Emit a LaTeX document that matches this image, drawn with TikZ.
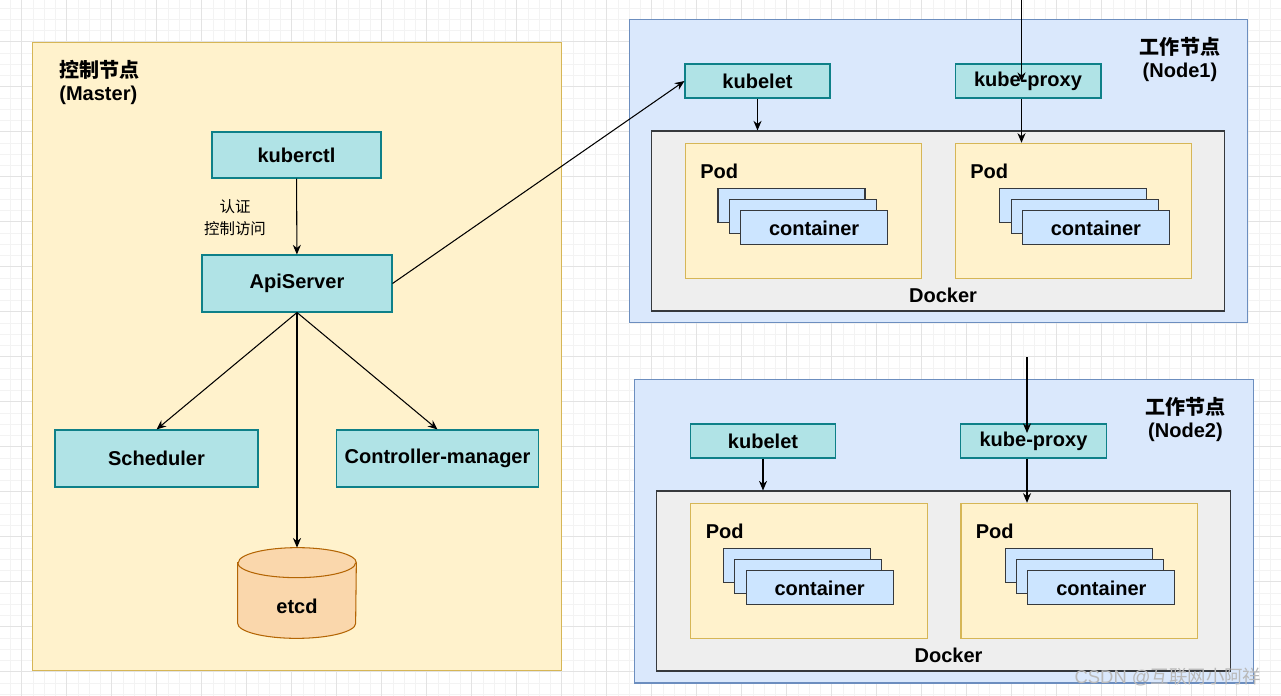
\documentclass[tikz,border=0pt]{standalone}
\usepackage{fontspec}
\setmainfont{Liberation Sans}
\newfontfamily\cjk{Noto Sans CJK SC}
\usepackage{tikz}
\usetikzlibrary{positioning, arrows.meta}
\definecolor{k8s-yellow}{HTML}{FFF2CC}
\definecolor{k8s-yellowline}{HTML}{D6B656}
\definecolor{k8s-teal}{HTML}{B0E3E6}
\definecolor{k8s-tealline}{HTML}{0E8088}
\definecolor{k8s-blue}{HTML}{DAE8FC}
\definecolor{k8s-blueline}{HTML}{6C8EBF}
\definecolor{k8s-gray}{HTML}{EEEEEE}
\definecolor{k8s-dark}{HTML}{36393D}
\definecolor{k8s-orange}{HTML}{FAD7AC}
\definecolor{k8s-orangeline}{HTML}{B46504}
\definecolor{k8s-ctr}{HTML}{CCE5FF}
\definecolor{k8s-grid}{HTML}{E3E3E3}
\definecolor{k8s-gridfine}{HTML}{F3F3F3}

\begin{document}
\begin{tikzpicture}[x=0.02cm, y=-0.02cm,
    comp/.style={draw=k8s-tealline, fill=k8s-teal, line width=0.6pt, inner sep=0pt,
                 font=\fontsize{11.4}{13}\selectfont\bfseries},
    grp/.style={draw=k8s-blueline, fill=k8s-blue, line width=0.6pt, inner sep=0pt},
    master/.style={draw=k8s-yellowline, fill=k8s-yellow, line width=0.6pt, inner sep=0pt},
    dockerbox/.style={draw=k8s-dark, fill=k8s-gray, line width=0.6pt, inner sep=0pt},
    podbox/.style={draw=k8s-yellowline, fill=k8s-yellow, line width=0.6pt, inner sep=0pt,
                   minimum width=4.73cm, minimum height=2.7cm},
    ctr/.style={draw=k8s-dark, fill=k8s-ctr, line width=0.6pt, inner sep=0pt,
                minimum width=2.94cm, minimum height=0.68cm,
                font=\fontsize{11.4}{13}\selectfont\bfseries},
    dbline/.style={draw=k8s-orangeline, fill=k8s-orange, line width=0.6pt},
    lbl/.style={font=\fontsize{11.4}{13}\selectfont\bfseries, inner sep=0pt},
    ttl/.style={font=\fontsize{11.4}{12.6}\selectfont\bfseries, inner sep=0pt},
    arr/.style={-{Stealth[length=5.5pt, width=4.6pt]}, line width=0.6pt, black},
    rim/.style={x radius=1.18cm, y radius=0.3cm},
]
    \useasboundingbox (0,0) rectangle (1281,696);

    % Grid
    \begin{scope}
        \clip (0,0) rectangle (1281,696);
        \foreach \gx in {10.45,21.7,...,1281} \draw[k8s-gridfine, line width=0.4pt] (\gx,0) -- (\gx,696);
        \foreach \gy in {7.95,19.2,...,696} \draw[k8s-gridfine, line width=0.4pt] (0,\gy) -- (1281,\gy);
        \foreach \gx in {21.7,66.7,...,1281} \draw[k8s-grid, line width=0.5pt] (\gx,0) -- (\gx,696);
        \foreach \gy in {41.7,86.7,...,696} \draw[k8s-grid, line width=0.5pt] (0,\gy) -- (1281,\gy);
    \end{scope}

    % Master
    \node[master, minimum width=10.6cm, minimum height=12.58cm] (master) at (297,356.5) {};
    \node[ttl, anchor=west, align=left] (mastertitle) at (59,82.5) {{\cjk 控制节点}\\(Master)};
    \node[comp, minimum width=3.38cm, minimum height=0.92cm] (kuberctl)  at (296.5,155) {kuberctl};
    \node[comp, minimum width=3.8cm,  minimum height=1.14cm] (apiserver) at (297,283.5) {ApiServer};
    \node[comp, minimum width=4.06cm, minimum height=1.14cm] (scheduler) at (156.5,458.5) {Scheduler};
    \node[comp, minimum width=4.05cm, minimum height=1.14cm] (ctrlmgr)   at (437.5,458.5) {Controller-manager};
    \node[font=\cjk\fontsize{8.8}{12.2}\selectfont, align=center, inner sep=0pt] (auth) at (235,217.5) {认证\\控制访问};

    % etcd store
    \node[minimum width=2.36cm, minimum height=1.8cm, inner sep=0pt] (etcd) at (297,593) {};
    \path[dbline] ([yshift=-0.3cm]etcd.north west) -- ([yshift=0.3cm]etcd.south west)
        arc[start angle=180, end angle=360, rim] -- ([yshift=-0.3cm]etcd.north east)
        arc[start angle=0, end angle=180, rim] -- cycle;
    \draw[k8s-orangeline, line width=0.6pt] ([yshift=-0.3cm]etcd.north west) arc[start angle=180, end angle=360, rim];
    \node[lbl] (etcdlbl) at (297,606) {etcd};

    \draw[arr] (kuberctl) -- (apiserver);
    \draw[arr] (apiserver.south) -- (scheduler.north);
    \draw[arr] (apiserver.south) -- (ctrlmgr.north);
    \draw[arr] (apiserver.south) -- (etcd.north);

    % Worker nodes
    \foreach \n/\sx/\dy/\ys/\ye in {1/0/0/-5/82, 2/5.5/360/-3/73} {
        \begin{scope}[shift={(\sx,\dy)}]
            \node[grp, minimum width=12.38cm, minimum height=6.08cm] (node\n) at (938.5,171) {};
            \node[ttl, align=center] (title\n) at (1180,59.5) {{\cjk 工作节点}\\(Node\n)};
            \node[comp, minimum width=2.9cm,  minimum height=0.68cm] (kubelet\n) at (757.5,81) {kubelet};
            \node[comp, minimum width=2.92cm, minimum height=0.68cm] (proxy\n)   at (1028,81) {kube-proxy};
            \node[dockerbox, minimum width=11.48cm, minimum height=3.6cm] (docker\n) at (938,221) {};
            \node[lbl] (dockerlbl\n) at (943,295) {Docker};

            \node[podbox] (poda\n) at (803.3,210.8) {};
            \node[lbl, anchor=west] (podalbl\n) at (700,171) {Pod};
            \node[ctr] (ctra\n-1) at (791.5,205.3) {};
            \node[ctr] (ctra\n-2) at (802.8,216.6) {};
            \node[ctr] (ctra\n-3) at (814.1,227.9) {container};

            \node[podbox] (podb\n) at (1073.7,210.8) {};
            \node[lbl, anchor=west] (podblbl\n) at (970,171) {Pod};
            \node[ctr] (ctrb\n-1) at (1073.3,205.3) {};
            \node[ctr] (ctrb\n-2) at (1084.6,216.6) {};
            \node[ctr] (ctrb\n-3) at (1095.9,227.9) {container};

            \coordinate (feed\n) at (1021.5,\ys);
            \coordinate (feedtip\n) at (1021.5,\ye);
            \draw[arr] (kubelet\n.south) -- (kubelet\n.south |- docker\n.north);
            \draw[arr] (feed\n) -- (feedtip\n);
            \draw[arr] (proxy\n.south -| feed\n) -- (feed\n |- podb\n.north);
        \end{scope}
    }

    \draw[arr] (apiserver.east) -- (kubelet1.west);

    % Watermark
    \node[font=\fontsize{10.5}{12}\selectfont, text=gray!55, inner sep=0pt] (mark) at (1168,677) {CSDN @{\cjk 互联网小阿祥}};
\end{tikzpicture}
\end{document}
